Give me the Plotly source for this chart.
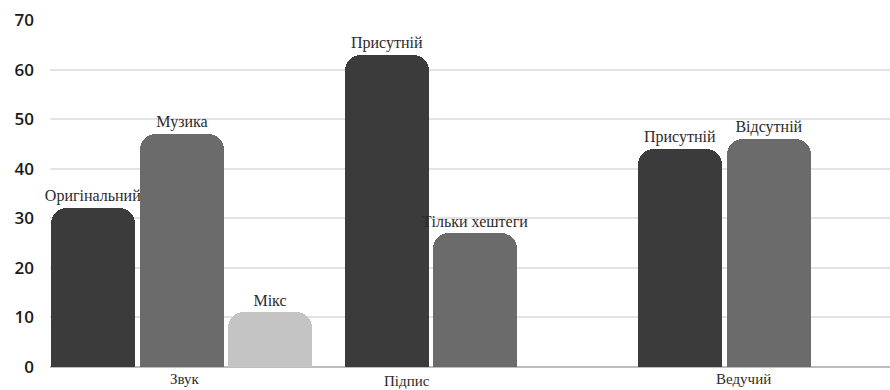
import plotly.graph_objects as go

# Survey categories and the answers within each
groups = ["Звук", "Підпис", "Ведучий"]
answers = [
    ["Оригінальний", "Музика", "Мікс"],
    ["Присутній", "Тільки хештеги"],
    ["Присутній", "Відсутній"],
]
values = [
    [32, 47, 11],
    [63, 27],
    [44, 46],
]
slot_colors = ["#3b3b3b", "#6b6b6b", "#c4c4c4"]
y_ticks = [0, 10, 20, 30, 40, 50, 60, 70]

# Horizontal layout in axis units (one unit ~ one pixel of plot width)
GROUP_PITCH = 293.5
SLOT_PITCH = 88.5
BAR_WIDTH = 84
GROUP_OFFSET = 43
group_label_x = [135, 357, 693]
group_label_shift = [-2, -4, -2]

SERIF = "Liberation Serif, Times New Roman, serif"

fig = go.Figure()
for g, (names, vals) in enumerate(zip(answers, values)):
    xs = [GROUP_OFFSET + g * GROUP_PITCH + s * SLOT_PITCH for s in range(len(vals))]
    fig.add_trace(go.Bar(
        x=xs,
        y=vals,
        width=BAR_WIDTH,
        text=names,
        textposition="outside",
        constraintext="none",
        cliponaxis=False,
        textfont=dict(family=SERIF, size=16, color="#2b2b2b"),
        outsidetextfont=dict(family=SERIF, size=16, color="#2b2b2b"),
        marker=dict(color=slot_colors[:len(vals)], cornerradius=16, line=dict(width=0)),
        hovertemplate="%{text}: %{y}<extra></extra>",
        showlegend=False,
    ))

# Group names under the baseline
for name, gx, dy in zip(groups, group_label_x, group_label_shift):
    fig.add_annotation(
        x=gx, y=0, xref="x", yref="y", text=name, showarrow=False,
        yanchor="top", yshift=dy,
        font=dict(family=SERIF, size=15, color="#2b2b2b"),
    )

fig.update_layout(
    width=890, height=390,
    margin=dict(l=50, r=0, t=20, b=23),
    paper_bgcolor="white", plot_bgcolor="white",
    xaxis=dict(range=[0, 840], showgrid=False, zeroline=False,
               showticklabels=False, showline=False, fixedrange=True),
    yaxis=dict(range=[0, 70], tickvals=y_ticks,
               tickfont=dict(family="Open Sans", size=17, color="#1a1a1a", weight=600),
               ticklabelstandoff=15,
               gridcolor="#e3e3e3", gridwidth=1.5,
               zeroline=True, zerolinecolor="#bdbdbd", zerolinewidth=1.5,
               showline=False, fixedrange=True),
    bargap=0,
)

fig.write_html("out.html")
